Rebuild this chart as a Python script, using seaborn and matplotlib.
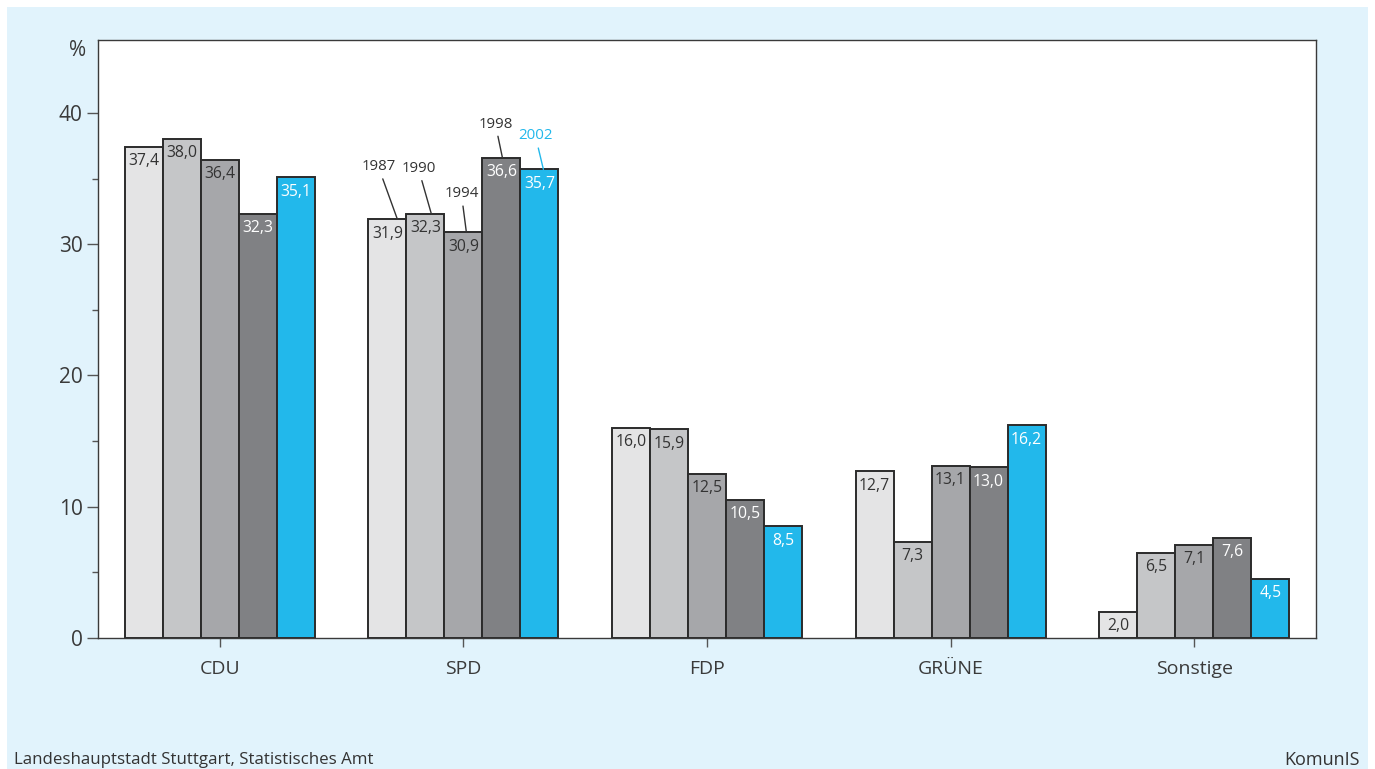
import pandas as pd
import matplotlib.pyplot as plt
import seaborn as sns
from matplotlib.patches import Rectangle
from matplotlib.ticker import MultipleLocator, FixedLocator

parties = ["CDU", "SPD", "FDP", "GRÜNE", "Sonstige"]
years = ["1987", "1990", "1994", "1998", "2002"]
cdu = [37.4, 38.0, 36.4, 32.3, 35.1]
spd = [31.9, 32.3, 30.9, 36.6, 35.7]
fdp = [16.0, 15.9, 12.5, 10.5, 8.5]
gruene = [12.7, 7.3, 13.1, 13.0, 16.2]
sonstige = [2.0, 6.5, 7.1, 7.6, 4.5]

colors = ["#e4e4e5", "#c5c6c8", "#a6a7aa", "#808184", "#22b8eb"]
label_colors = ["#333333", "#333333", "#333333", "white", "white"]

rows = []
for party, vals in zip(parties, [cdu, spd, fdp, gruene, sonstige]):
    for year, v in zip(years, vals):
        rows.append({"party": party, "year": year, "value": v})
df = pd.DataFrame(rows)

sns.set_style("white")
plt.rcParams["font.family"] = ["Open Sans", "DejaVu Sans"]

fig = plt.figure(figsize=(13.75, 7.69), dpi=100)
fig.patch.set_facecolor("white")
bg = Rectangle((7 / 1375, 0), 1361 / 1375, 1 - 7 / 769,
               transform=fig.transFigure, facecolor="#e1f3fc",
               edgecolor="none", zorder=-10)
fig.add_artist(bg)

ax = fig.add_axes([98 / 1375, 1 - 638 / 769, 1218 / 1375, 598 / 769])
sns.barplot(data=df, x="party", y="value", hue="year", order=parties,
            hue_order=years, palette=colors, width=0.78, gap=0,
            edgecolor="#2b2b2b", linewidth=1.4, saturation=1, ax=ax,
            legend=False)

ax.set_ylim(0, 45.56)
ax.set_xlim(-0.5, 4.5)
ax.set_facecolor("white")
for s in ax.spines.values():
    s.set_color("#3a3a3a")
    s.set_linewidth(1.0)

ax.yaxis.set_major_locator(MultipleLocator(10))
ax.yaxis.set_minor_locator(FixedLocator([5, 15, 25, 35]))
ax.tick_params(axis="y", which="major", left=True, length=8, width=1,
               color="#555555", labelsize=15, labelcolor="#3a3a3a", pad=3)
ax.tick_params(axis="y", which="minor", left=True, length=4, width=1,
               color="#555555")
ax.tick_params(axis="x", bottom=True, length=6.5, width=1, color="#555555",
               labelsize=14, labelcolor="#3a3a3a", pad=9)
ax.set_xlabel("")
ax.set_ylabel("")

# value labels inside the bars
for i, cont in enumerate(ax.containers):
    for bar in cont:
        h = bar.get_height()
        ax.annotate(f"{h:.1f}".replace(".", ","),
                    (bar.get_x() + bar.get_width() / 2, h),
                    xytext=(0, -4.5), textcoords="offset points",
                    ha="center", va="top", fontsize=11.3,
                    color=label_colors[i])

# year labels with leader lines on the SPD group (offsets in pixels)
year_offsets = [(-9, 45), (-7, 38), (-2, 31), (-6, 26), (-4, 26)]
line_shift = [10, 6, 3, 1, 4]
px = 72 / 100
for i, cont in enumerate(ax.containers):
    bar = cont[1]
    w = bar.get_width()
    x = bar.get_x() + w / 2
    h = bar.get_height()
    dx, dy = year_offsets[i]
    c = colors[4] if i == 4 else "#333333"
    ax.annotate(years[i], (x + line_shift[i] * w / 38, h),
                xytext=((dx - line_shift[i]) * px, dy * px),
                textcoords="offset points",
                ha="center", va="bottom", fontsize=10.8, color=c,
                arrowprops=dict(arrowstyle="-", color=c, lw=1,
                                shrinkA=1, shrinkB=0))

ax.text(-12 / 1218, 1.0, "%", transform=ax.transAxes, ha="right", va="top",
        fontsize=15, color="#3a3a3a")

fig.text(14 / 1375, 1 - 760 / 769, "Landeshauptstadt Stuttgart, Statistisches Amt",
         ha="left", va="center", fontsize=12.2, color="#333333")
fig.text(1360 / 1375, 1 - 760 / 769, "KomunIS", ha="right", va="center",
         fontsize=13, color="#333333")

fig.savefig("out.png", dpi=100, facecolor=fig.get_facecolor())
